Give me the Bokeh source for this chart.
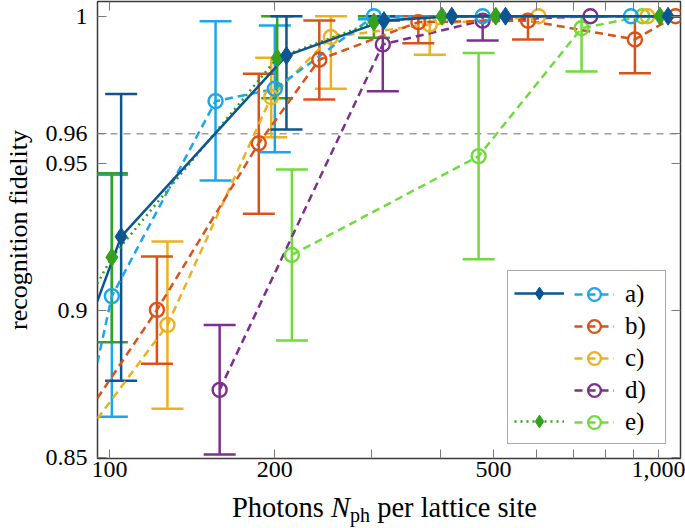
import math
from bokeh.plotting import figure
from bokeh.layouts import column
from bokeh.models import (Range1d, FixedTicker, CustomJSTickFormatter, LinearAxis, LogAxis,
                          Whisker, TeeHead, ColumnDataSource, Span, Legend, LegendItem, Div)
from bokeh.embed import file_html
from bokeh.resources import INLINE

# ---------------- data ----------------
# a) solid, dark blue diamonds
a_x = [105, 210, 316, 420, 526, 1040]
a_y = [0.925, 0.9866, 0.9985, 1.0, 1.0, 1.0]
a_lo = [0.876, 0.9615, 0.9985, 1.0, 1.0, 1.0]
a_hi = [0.9735, 1.0, 1.0, 1.0, 1.0, 1.0]
a_line_x = [95, 105, 210, 316, 420, 526, 1040]
a_line_y = [0.903, 0.925, 0.9866, 0.9985, 1.0, 1.0, 1.0]

# a) dashed, light blue circles
a2_x = [101, 156, 200, 303, 478, 890]
a2_y = [0.9048, 0.9711, 0.9753, 1.0, 1.0, 1.0]
a2_lo = [0.8638, 0.9441, 0.9537, 0.999, 1.0, 1.0]
a2_hi = [0.9461, 0.9983, 0.9968, 1.0, 1.0, 1.0]
a2_line_x = [95, 101, 156, 200, 303, 478, 890]
a2_line_y = [0.882, 0.9048, 0.9711, 0.9753, 1.0, 1.0, 1.0]

# b) dashed, orange circles
b_x = [122, 187, 241, 365, 578, 905, 1073]
b_y = [0.9001, 0.9568, 0.9852, 0.998, 0.9985, 0.9921, 1.0]
b_lo = [0.8818, 0.9328, 0.9717, 0.9908, 0.9921, 0.9806, 1.0]
b_hi = [0.9183, 0.9804, 0.9985, 1.0, 1.0, 1.0, 1.0]
b_line_x = [95, 122, 187, 241, 365, 578, 905, 1073]
b_line_y = [0.870, 0.9001, 0.9568, 0.9852, 0.998, 0.9985, 0.9921, 1.0]

# c) dashed, yellow circles
c_x = [127.5, 197, 253, 383, 604, 954]
c_y = [0.895, 0.9725, 0.9929, 0.9972, 1.0, 1.0]
c_lo = [0.8665, 0.9588, 0.9753, 0.9869, 1.0, 1.0]
c_hi = [0.9234, 0.9859, 1.0, 1.0, 1.0, 1.0]
c_line_x = [95, 127.5, 197, 253, 383, 604, 954]
c_line_y = [0.863, 0.895, 0.9725, 0.9929, 0.9972, 1.0, 1.0]

# d) dashed, purple circles
d_x = [158.7, 314.5, 478, 751]
d_y = [0.8729, 0.9904, 0.9985, 1.0]
d_lo = [0.8509, 0.9745, 0.9917, 1.0]
d_hi = [0.895, 1.0, 1.0, 1.0]

# e) dotted, green diamonds
e_x = [101, 202, 303, 403, 505, 1005]
e_y = [0.918, 0.9858, 0.998, 1.0, 1.0, 1.0]
e_lo = [0.8891, 0.9721, 0.9927, 1.0, 1.0, 1.0]
e_hi = [0.9466, 1.0, 1.0, 1.0, 1.0, 1.0]
e_line_x = [95, 101, 202, 303, 403, 505, 1005]
e_line_y = [0.909, 0.918, 0.9858, 0.998, 1.0, 1.0, 1.0]

# e) dashed, light green circles
e2_x = [214.8, 470, 723.6, 934]
e2_y = [0.9188, 0.9524, 0.9959, 1.0]
e2_lo = [0.8897, 0.9173, 0.9812, 1.0]
e2_hi = [0.9479, 0.9875, 1.0, 1.0]

threshold = 0.96

x_ticks = [100, 200, 300, 400, 500, 600, 700, 800, 900, 1000]
x_tick_labels = ["100", "200", "", "", "500", "", "", "", "", "1,000"]
y_ticks = [0.85, 0.9, 0.95, 0.96, 1.0]
y_tick_labels = ["0.85", "0.9", "0.95", "0.96", "1"]

labels = ["a)", "b)", "c)", "d)", "e)"]
x_title = ('Photons <i>N</i><sub style="font-size:20px; vertical-align:baseline; '
           'position:relative; top:5px; line-height:0">ph</sub> per lattice site')
y_title = "recognition fidelity"

# ---------------- styling ----------------
DARK_BLUE = "#0b5592"
LIGHT_BLUE = "#1aa6ec"
ORANGE = "#d95319"
YELLOW = "#edb120"
PURPLE = "#7e2f8e"
GREEN = "#36a11f"
LIGHT_GREEN = "#6fdc3b"
FONT = "Liberation Serif"

p = figure(width=685, height=492, x_axis_type="log",
           x_range=Range1d(95.1, 1095.6), y_range=Range1d(0.84956, 1.005),
           output_backend="svg", toolbar_location=None,
           min_border_left=91, min_border_right=5, min_border_top=1, min_border_bottom=34)
p.xgrid.visible = False
p.ygrid.visible = False
p.outline_line_color = "#3a3a3a"
p.outline_line_width = 1.5
p.background_fill_color = "white"
p.border_fill_color = "white"

xfmt = CustomJSTickFormatter(args=dict(t=x_ticks, l=x_tick_labels), code="""
for (let i = 0; i < t.length; i++) { if (Math.abs(t[i] - tick) < 1e-6 * t[i]) return l[i]; }
return '';""")
yfmt = CustomJSTickFormatter(args=dict(t=y_ticks, l=y_tick_labels), code="""
for (let i = 0; i < t.length; i++) { if (Math.abs(t[i] - tick) < 1e-6) return l[i]; }
return '';""")
blank = CustomJSTickFormatter(code="return '';")

def style_axis(ax, labelled):
    ax.axis_line_color = None
    ax.major_tick_in = 9
    ax.major_tick_out = 0
    ax.major_tick_line_color = "#7a7a7a"
    ax.major_tick_line_width = 1
    ax.minor_tick_line_color = None
    ax.major_label_text_font = FONT
    ax.major_label_text_color = "black"
    if labelled:
        ax.major_label_text_font_size = "24px"
    else:
        ax.major_label_text_font_size = "0px"
        ax.major_label_standoff = 0

xa = p.xaxis[0]
xa.ticker = FixedTicker(ticks=x_ticks)
xa.formatter = xfmt
style_axis(xa, True)
xa.major_label_standoff = 3

ya = p.yaxis[0]
ya.ticker = FixedTicker(ticks=y_ticks)
ya.formatter = yfmt
style_axis(ya, True)
ya.major_label_standoff = 10
ya.axis_label = y_title
ya.axis_label_text_font = FONT
ya.axis_label_text_font_size = "26px"
ya.axis_label_text_font_style = "normal"
ya.axis_label_text_color = "black"
ya.axis_label_standoff = 10

top = LogAxis(ticker=FixedTicker(ticks=x_ticks), formatter=blank)
style_axis(top, False)
p.add_layout(top, "above")
right = LinearAxis(ticker=FixedTicker(ticks=y_ticks), formatter=blank)
style_axis(right, False)
p.add_layout(right, "right")

p.add_layout(Span(location=threshold, dimension="width", line_color="#9e9e9e",
                  line_dash="7 6", line_width=1.5, level="underlay"))

def errbars(xs, lo, hi, color):
    src = ColumnDataSource(dict(x=xs, lo=lo, hi=hi))
    w = Whisker(source=src, base="x", lower="lo", upper="hi", dimension="height",
                line_color=color, line_width=2.5,
                upper_head=TeeHead(size=32, line_color=color, line_width=2.5),
                lower_head=TeeHead(size=32, line_color=color, line_width=2.5))
    p.add_layout(w)

errbars(e2_x, e2_lo, e2_hi, LIGHT_GREEN)
errbars(d_x, d_lo, d_hi, PURPLE)
errbars(c_x, c_lo, c_hi, YELLOW)
errbars(b_x, b_lo, b_hi, ORANGE)
errbars(a2_x, a2_lo, a2_hi, LIGHT_BLUE)
errbars(e_x, e_lo, e_hi, GREEN)
errbars(a_x, a_lo, a_hi, DARK_BLUE)

DASH = "8 5"
r_e2_l = p.line(e2_x, e2_y, line_color=LIGHT_GREEN, line_width=2.5, line_dash=DASH)
r_d_l = p.line(d_x, d_y, line_color=PURPLE, line_width=2.5, line_dash=DASH)
r_c_l = p.line(c_line_x, c_line_y, line_color=YELLOW, line_width=2.5, line_dash=DASH)
r_b_l = p.line(b_line_x, b_line_y, line_color=ORANGE, line_width=2.5, line_dash=DASH)
r_a2_l = p.line(a2_line_x, a2_line_y, line_color=LIGHT_BLUE, line_width=2.5, line_dash=DASH)

def circles(xs, ys, color):
    return p.scatter(xs, ys, marker="circle", size=14, fill_alpha=0,
                     line_color=color, line_width=2.4)

r_e2_p = circles(e2_x, e2_y, LIGHT_GREEN)
r_d_p = circles(d_x, d_y, PURPLE)
r_c_p = circles(c_x, c_y, YELLOW)
r_b_p = circles(b_x, b_y, ORANGE)
r_a2_p = circles(a2_x, a2_y, LIGHT_BLUE)

r_e_l = p.line(e_line_x, e_line_y, line_color=GREEN, line_width=2.5, line_dash="2 4")
r_a_l = p.line(a_line_x, a_line_y, line_color=DARK_BLUE, line_width=2.5)
r_e_p = p.scatter(e_x, e_y, marker="diamond", size=18, fill_color=GREEN, line_color=GREEN)
r_a_p = p.scatter(a_x, a_y, marker="diamond", size=18, fill_color=DARK_BLUE, line_color=DARK_BLUE)

dummy = p.line(x=[], y=[], line_alpha=0)

leg_left = Legend(items=[
    LegendItem(label=" ", renderers=[r_a_l, r_a_p]),
    LegendItem(label=" ", renderers=[dummy]),
    LegendItem(label=" ", renderers=[dummy]),
    LegendItem(label=" ", renderers=[dummy]),
    LegendItem(label=" ", renderers=[r_e_l, r_e_p]),
], location=(410, 14), padding=6, spacing=0, margin=0,
   glyph_width=50, glyph_height=32, label_standoff=5, label_width=90,
   label_text_font=FONT, label_text_font_size="25px",
   border_line_color="#555555", border_line_width=1.5,
   background_fill_color="white", background_fill_alpha=1.0)

leg_right = Legend(items=[
    LegendItem(label=labels[0], renderers=[r_a2_l, r_a2_p]),
    LegendItem(label=labels[1], renderers=[r_b_l, r_b_p]),
    LegendItem(label=labels[2], renderers=[r_c_l, r_c_p]),
    LegendItem(label=labels[3], renderers=[r_d_l, r_d_p]),
    LegendItem(label=labels[4], renderers=[r_e2_l, r_e2_p]),
], location=(471, 14), padding=6, spacing=0, margin=0,
   glyph_width=40, glyph_height=32, label_standoff=11,
   label_text_font=FONT, label_text_font_size="25px", label_text_color="black",
   border_line_alpha=0, background_fill_alpha=0)

p.add_layout(leg_left)
p.add_layout(leg_right)

xlabel = Div(text=x_title, width=685, height=36, margin=0,
             styles={"font-family": FONT, "font-size": "28.5px", "line-height": "32px",
                     "padding-left": "232px", "color": "black", "white-space": "nowrap",
                     "box-sizing": "border-box"})

layout = column(p, xlabel, spacing=0)
open("out.html", "w").write(file_html(layout, INLINE))
